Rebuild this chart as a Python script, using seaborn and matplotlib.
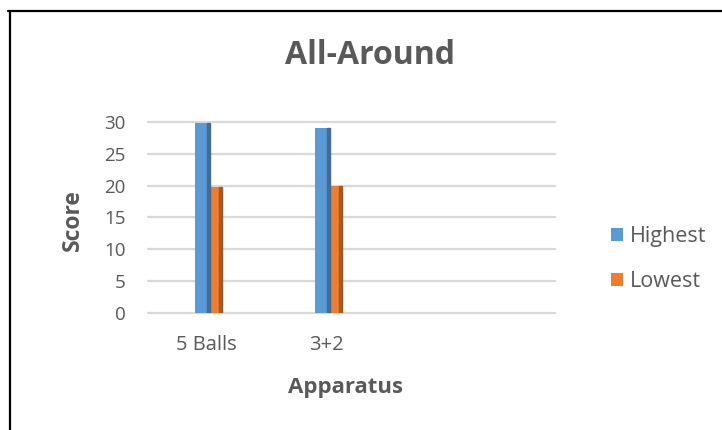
"""
All-Around scores by apparatus - clustered column chart
"""

import numpy as np
import matplotlib
matplotlib.use('Agg')
import matplotlib.pyplot as plt
from matplotlib.lines import Line2D
from matplotlib.patches import Patch
import seaborn as sns
import pandas as pd

# Chart data
APPARATUS = ['5 Balls', '3+2']
HIGHEST = [29.8, 29.0]
LOWEST = [19.8, 19.9]
SERIES = ['Highest', 'Lowest']
COLORS = ['#5B9BD5', '#ED7D31']
Y_TICKS = [0, 5, 10, 15, 20, 25, 30]

TEXT_GREY = '#595959'
GRID_GREY = '#D9D9D9'

sns.set_theme(style='white')
plt.rcParams['font.family'] = ['Open Sans', 'DejaVu Sans']

df = pd.DataFrame({
    'Apparatus': APPARATUS * 2,
    'Series': [SERIES[0]] * len(APPARATUS) + [SERIES[1]] * len(APPARATUS),
    'Score': HIGHEST + LOWEST,
})

fig = plt.figure(figsize=(7.22, 4.30), dpi=100)
W, H = 722, 430
# plot area in pixel coords (left, top, right, bottom)
left, top, right, bottom = 148, 122, 555, 313
ax = fig.add_axes([left / W, 1 - bottom / H, (right - left) / W, (bottom - top) / H])

sns.barplot(data=df, x='Apparatus', y='Score', hue='Series', hue_order=SERIES,
            palette=COLORS, width=0.2, gap=0, ax=ax, legend=False,
            saturation=1, errorbar=None, linewidth=0)

# darker side on each column for the Excel 3D look
for patch in ax.patches:
    x0 = patch.get_x() + patch.get_width()
    h = patch.get_height()
    fc = np.array(matplotlib.colors.to_rgb(patch.get_facecolor())) * 0.7
    ax.add_patch(plt.Rectangle((x0, 0), 0.025, h, color=fc, zorder=patch.get_zorder()))

ax.set_xlim(-0.49, 2.905)
ax.set_ylim(0, 30)
ax.set_yticks(Y_TICKS)
for y in Y_TICKS:
    ax.axhline(y, color=GRID_GREY, lw=1.6, zorder=0, clip_on=False)

for s in ax.spines.values():
    s.set_visible(False)

ax.tick_params(axis='y', length=0, pad=16, labelsize=13.5, labelcolor=TEXT_GREY)
ax.tick_params(axis='x', length=0, pad=16, labelsize=14.5, labelcolor=TEXT_GREY)
ax.set_xlabel('')
ax.set_ylabel('')

fig.text(370 / W, 1 - 56 / H, 'All-Around', ha='center', va='center',
         fontsize=23, fontweight='bold', color=TEXT_GREY)
fig.text(73 / W, 1 - 220 / H, 'Score', ha='center', va='center', rotation=90,
         fontsize=16.5, fontweight='bold', color=TEXT_GREY)
fig.text(345 / W, 1 - 387 / H, 'Apparatus', ha='center', va='center',
         fontsize=16, fontweight='bold', color=TEXT_GREY)

handles = [Patch(facecolor=c, edgecolor='none') for c in COLORS]
fig.legend(handles, SERIES, loc='center left', bbox_to_anchor=(592 / W, 1 - 259 / H),
           frameon=False, fontsize=15.5, labelcolor=TEXT_GREY, handlelength=0.55,
           handleheight=0.55, handletextpad=0.3, labelspacing=1.1)

# black frame on top and left
fig.add_artist(Line2D([8 / W, 1], [1 - 11 / H, 1 - 11 / H], color='black', lw=1.6))
fig.add_artist(Line2D([9.5 / W, 9.5 / W], [0, 1 - 11 / H], color='black', lw=1.6))

fig.savefig('out.png', dpi=100, facecolor='white')
